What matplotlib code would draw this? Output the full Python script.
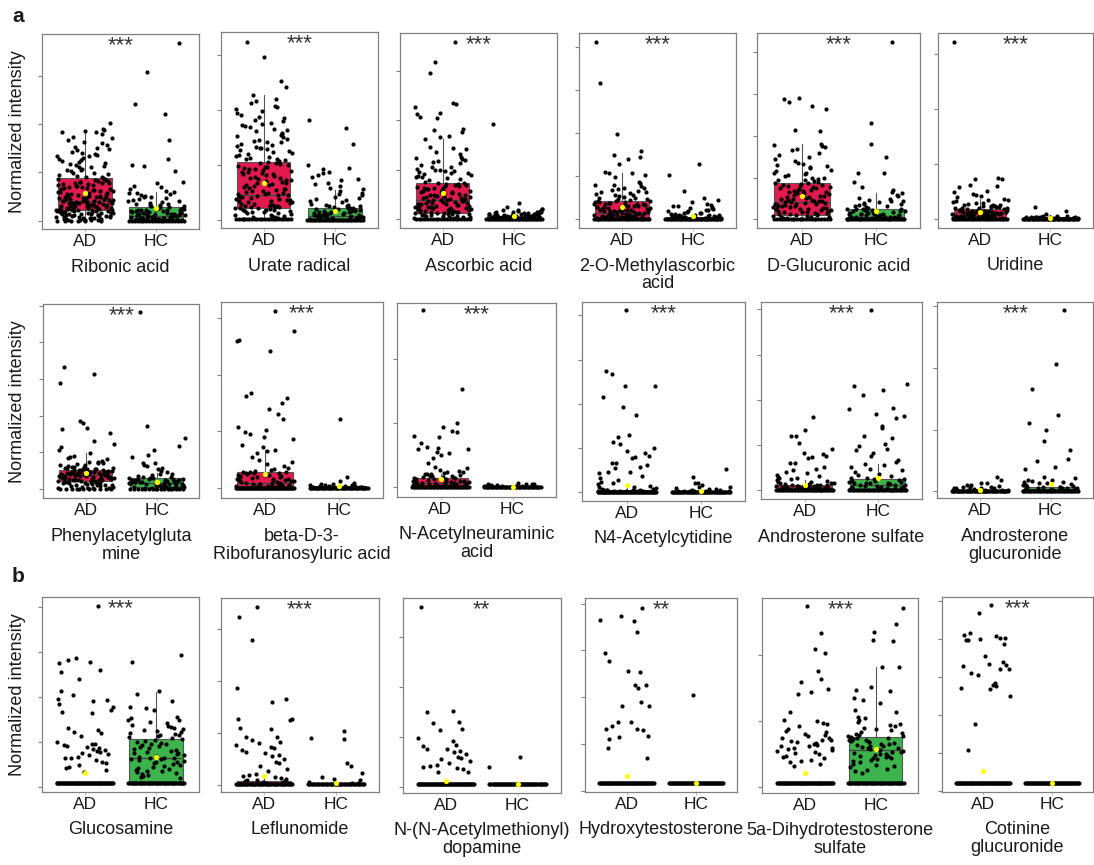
import numpy as np
import matplotlib
matplotlib.use("Agg")
import matplotlib.pyplot as plt

plt.rcParams['font.family'] = ['Liberation Sans', 'DejaVu Sans']

W, H = 1094, 865
RED = '#E31A4E'
GREEN = '#3CB44B'
TXT = '#1a1a1a'

# metabolite names, row by row
names = ['Ribonic acid', 'Urate radical', 'Ascorbic acid',
         '2-O-Methylascorbic\nacid', 'D-Glucuronic acid', 'Uridine',
         'Phenylacetylgluta\nmine', 'beta-D-3-\nRibofuranosyluric acid',
         'N-Acetylneuraminic\nacid', 'N4-Acetylcytidine', 'Androsterone sulfate',
         'Androsterone\nglucuronide',
         'Glucosamine', 'Leflunomide', 'N-(N-Acetylmethionyl)\ndopamine',
         'Hydroxytestosterone', '5a-Dihydrotestosterone\nsulfate',
         'Cotinine\nglucuronide']
signif = ['***'] * 14 + ['**', '**', '***', '***']
groups = ['AD', 'HC']

# y range and number of ticks for each panel (ticks at 0, 1, 2, ...)
ylims = [(-0.18, 3.87), (-0.15, 3.41), (-0.19, 3.77), (-0.21, 4.33), (-0.21, 4.44), (-0.16, 3.37),
         (-0.25, 5.05), (-0.19, 3.29), (-0.15, 2.87), (-0.20, 4.31), (-0.20, 4.17), (-0.11, 3.06),
         (-0.11, 4.21), (-0.13, 3.61), (-0.11, 3.78), (-0.02, 4.12), (-0.08, 2.86), (-0.01, 5.10)]
n_ticks = [4, 4, 4, 5, 5, 4,
           6, 4, 3, 5, 5, 4,
           5, 4, 4, 5, 3, 6]

# box stats [whisker low, q1, median, q3, whisker high]
ad_box = [[0, 0.21, 0.41, 0.88, 1.84], [0, 0.22, 0.45, 1.06, 2.27], [0, 0.11, 0.38, 0.73, 1.61],
          [0, 0, 0.15, 0.43, 1.06], [0, 0.10, 0.42, 0.87, 1.80], [0, 0.04, 0.11, 0.18, 0.36],
          [0, 0.21, 0.39, 0.53, 0.98], [0, 0.02, 0.08, 0.28, 0.67], [0, 0.01, 0.06, 0.14, 0.21],
          [0, 0, 0.01, 0.04, 0.10], [0, 0.01, 0.05, 0.12, 0.22], [0, 0, 0.01, 0.03, 0.07],
          [0.09, 0.09, 0.09, 0.09, 0.09], [0.01, 0.01, 0.02, 0.08, 0.17], [0.06, 0.06, 0.06, 0.06, 0.06],
          [0.16, 0.16, 0.16, 0.16, 0.16], [0.06, 0.06, 0.06, 0.06, 0.06], [0.22, 0.22, 0.22, 0.22, 0.22]]
hc_box = [[0, 0.03, 0.10, 0.28, 0.59], [0, 0.01, 0.07, 0.22, 0.55], [0, 0, 0.03, 0.06, 0.13],
          [0, 0, 0.02, 0.05, 0.12], [0, 0.02, 0.06, 0.25, 0.62], [0, 0, 0.01, 0.03, 0.07],
          [0, 0.07, 0.18, 0.30, 0.44], [0, 0, 0.01, 0.02, 0.05], [0, 0, 0, 0.01, 0.03],
          [0, 0, 0, 0.01, 0.03], [0, 0.01, 0.12, 0.24, 0.58], [0, 0, 0.04, 0.08, 0.18],
          [0.09, 0.09, 0.63, 1.07, 2.11], [0.01, 0.01, 0.01, 0.01, 0.01], [0.06, 0.06, 0.06, 0.06, 0.06],
          [0.16, 0.16, 0.16, 0.16, 0.16], [0.06, 0.06, 0.56, 0.76, 1.81], [0.22, 0.22, 0.22, 0.22, 0.22]]
ad_mean = [0.58, 0.68, 0.53, 0.29, 0.56, 0.13, 0.44, 0.24, 0.12, 0.16, 0.12, 0.03,
           0.30, 0.18, 0.13, 0.32, 0.22, 0.52]
hc_mean = [0.26, 0.17, 0.05, 0.07, 0.20, 0.02, 0.20, 0.02, 0.00, 0.02, 0.28, 0.12,
           0.67, 0.03, 0.06, 0.16, 0.58, 0.22]

# individual sample values
ribonic_ad = [2.03, 1.91, 1.87, 1.86, 1.84, 1.83, 1.79, 1.74, 1.72, 1.67, 1.64, 1.60, 1.57, 1.53, 1.50,
              1.47, 1.43, 1.39, 1.36, 1.33, 1.30, 1.27, 1.24, 1.22, 1.19, 1.16, 1.13, 1.11, 1.08, 1.05,
              1.02, 0.98, 0.96, 0.93, 0.90, 0.88, 0.86, 0.85, 0.83, 0.81, 0.79, 0.78, 0.76, 0.74, 0.73,
              0.71, 0.69, 0.68, 0.66, 0.65, 0.63, 0.62, 0.60, 0.59, 0.57, 0.56, 0.55, 0.53, 0.52, 0.51,
              0.49, 0.48, 0.47, 0.46, 0.45, 0.44, 0.43, 0.42, 0.41, 0.41, 0.40, 0.39, 0.38, 0.37, 0.37,
              0.36, 0.35, 0.34, 0.33, 0.33, 0.32, 0.31, 0.30, 0.29, 0.29, 0.28, 0.27, 0.26, 0.25, 0.24,
              0.24, 0.23, 0.22, 0.21, 0.20, 0.19, 0.18, 0.17, 0.16, 0.15, 0.14, 0.13, 0.12, 0.11, 0.10,
              0.09, 0.08, 0.07, 0.06, 0.05, 0.04, 0.03, 0.02, 0.01, 0.01,
              0.87, 0.84, 0.82, 0.80, 0.77, 0.75, 0.72, 0.70, 0.67, 0.64, 0.61, 0.58, 0.54, 0.51, 0.50,
              0.48, 0.46, 0.44, 0.43, 0.42, 0.40, 0.39, 0.38, 0.36, 0.35, 0.34, 0.32, 0.31, 0.30, 0.28,
              0.27, 0.26, 0.25, 0.23, 0.22, 0.21, 0.20, 0.19, 0.18, 0.17, 0.16, 0.15, 0.14, 0.13, 0.12,
              0.11, 0.10, 0.09, 0.08, 0.07, 0.06, 0.05, 0.04, 0.03, 0.02, 0.01, 1.48, 1.41, 1.35, 1.26,
              1.18, 1.12, 1.04, 0.99, 0.94, 0.91] + [0.0] * 6
ribonic_hc = [3.68, 3.08, 2.41, 2.21, 1.68, 1.27, 1.15, 1.13, 1.03, 0.81, 0.77, 0.72, 0.70, 0.66, 0.62,
              0.60, 0.57, 0.55, 0.52, 0.50, 0.48, 0.45, 0.43, 0.41, 0.39, 0.37, 0.35, 0.33, 0.31, 0.30,
              0.28, 0.27, 0.26, 0.25, 0.24, 0.23, 0.22, 0.21, 0.20, 0.19, 0.18, 0.17, 0.16, 0.15, 0.14,
              0.14, 0.13, 0.12, 0.11, 0.10, 0.10, 0.09, 0.08, 0.08, 0.07, 0.06, 0.06, 0.05, 0.04, 0.04,
              0.03, 0.03, 0.02, 0.02, 0.01, 0.01,
              0.35, 0.32, 0.29, 0.27, 0.25, 0.23, 0.21, 0.19, 0.18, 0.17, 0.16, 0.15, 0.14, 0.13, 0.12,
              0.11, 0.10, 0.09, 0.08, 0.07, 0.06, 0.05, 0.05, 0.04, 0.03, 0.03, 0.02, 0.02, 0.01, 0.01,
              0.58, 0.53, 0.46, 0.40] + [0.0] * 20
urate_ad = [3.24, 2.96, 2.53, 2.41, 2.28, 2.19, 2.16, 2.12, 2.08, 2.05, 2.02, 1.98, 1.95, 1.91, 1.88,
            1.85, 1.82, 1.80, 1.77, 1.74, 1.71, 1.69, 1.66, 1.63, 1.61, 1.58, 1.56, 1.53, 1.51, 1.48,
            1.46, 1.44, 1.41, 1.39, 1.37, 1.35, 1.33, 1.31, 1.29, 1.27, 1.25, 1.23, 1.21, 1.19, 1.17,
            1.15, 1.13, 1.11, 1.09, 1.07, 1.05, 1.03, 1.01, 0.99, 0.97, 0.95, 0.93, 0.91, 0.89, 0.87,
            0.85, 0.83, 0.81, 0.79, 0.77, 0.75, 0.73, 0.71, 0.69, 0.67, 0.65, 0.63, 0.61, 0.59, 0.57,
            0.55, 0.53, 0.51, 0.49, 0.47, 0.46, 0.44, 0.43, 0.41, 0.40, 0.38, 0.37, 0.35, 0.34, 0.32,
            0.31, 0.29, 0.28, 0.26, 0.25, 0.24, 0.23, 0.22, 0.21, 0.20, 0.19, 0.18, 0.16, 0.14, 0.12,
            0.10, 0.08, 0.06, 0.04,
            1.04, 1.00, 0.96, 0.92, 0.88, 0.84, 0.80, 0.76, 0.72, 0.68, 0.64, 0.60, 0.56, 0.52, 0.50,
            0.48, 0.45, 0.42, 0.39, 0.36, 0.33, 0.30, 0.27, 0.25, 0.23, 0.21, 0.19, 0.17, 0.15, 0.13,
            0.11, 0.09, 0.07, 0.05, 0.03, 0.02, 1.72, 1.55, 1.42, 1.30, 1.20, 1.10] + [0.01] * 22
urate_hc = [1.82, 1.68, 1.39, 1.00, 0.94, 0.92, 0.88, 0.85, 0.82, 0.78, 0.75, 0.72, 0.68, 0.65, 0.62,
            0.59, 0.56, 0.53, 0.50, 0.47, 0.45, 0.42, 0.40, 0.38, 0.36, 0.34, 0.32, 0.30, 0.28, 0.26,
            0.25, 0.24, 0.22, 0.21, 0.20, 0.19, 0.18, 0.17, 0.16, 0.15, 0.14, 0.13, 0.12, 0.11, 0.10,
            0.09, 0.08, 0.07, 0.06, 0.05, 0.04, 0.03, 0.02,
            0.28, 0.25, 0.22, 0.20, 0.18, 0.16, 0.14, 0.13, 0.12, 0.11, 0.10, 0.09, 0.08, 0.07, 0.06,
            0.05, 0.04, 0.03, 0.02, 0.01, 0.01] + [0.0] * 35
ascorbic_ad = [3.59, 3.18, 2.96, 2.35, 2.33, 2.27, 2.14, 2.13, 2.06, 2.05, 1.83, 1.80, 1.75, 1.67, 1.66,
               1.61, 1.46, 1.43, 1.41, 1.36, 1.32, 1.26, 1.24, 1.21, 1.20, 1.18, 1.16, 1.13, 1.10, 1.06,
               1.02, 1.00, 0.99, 0.97, 0.95, 0.93, 0.92, 0.88, 0.86, 0.85, 0.82, 0.78, 0.75, 0.73, 0.71,
               0.70, 0.68, 0.66, 0.65, 0.63, 0.62, 0.60, 0.58, 0.57, 0.55, 0.54, 0.52, 0.51, 0.49, 0.48,
               0.47, 0.45, 0.44, 0.43, 0.41, 0.40, 0.39, 0.38, 0.37, 0.36, 0.34, 0.33, 0.32, 0.31, 0.30,
               0.29, 0.28, 0.27, 0.26, 0.25, 0.24, 0.23, 0.22, 0.21, 0.20, 0.19, 0.18, 0.17, 0.16, 0.15,
               0.14, 0.13, 0.12, 0.11, 0.10, 0.09, 0.08, 0.07, 0.06, 0.05, 0.04, 0.03, 0.02, 0.01,
               0.72, 0.69, 0.66, 0.63, 0.60, 0.57, 0.54, 0.51, 0.48, 0.46, 0.44, 0.42, 0.40, 0.38, 0.36,
               0.34, 0.32, 0.30, 0.28, 0.26, 0.24, 0.22, 0.20, 0.18, 0.16, 0.14, 0.12, 0.10, 0.08, 0.06,
               0.04, 0.02, 0.01, 1.05, 0.98, 0.90, 0.84, 0.80] + [0.0] * 20
ascorbic_hc = [1.92, 0.32, 0.24, 0.21, 0.19, 0.17, 0.16, 0.15, 0.14, 0.13, 0.12, 0.11, 0.10, 0.09, 0.09,
               0.08, 0.08, 0.07, 0.07, 0.06, 0.06, 0.05, 0.05, 0.04, 0.04, 0.04, 0.03, 0.03, 0.03, 0.02,
               0.02, 0.02, 0.01, 0.01, 0.01,
               0.12, 0.11, 0.10, 0.09, 0.08, 0.07, 0.06, 0.05, 0.05, 0.04, 0.04, 0.03, 0.03, 0.02, 0.02,
               0.01, 0.01, 0.15, 0.18, 0.20] + [0.0] * 40
methylasc_ad = [4.12, 3.16, 1.99, 1.59, 1.49, 1.45, 1.39, 1.29, 1.10, 1.08, 1.06, 1.03, 0.97, 0.87, 0.83,
                0.80, 0.76, 0.72, 0.70, 0.68, 0.65, 0.62, 0.60, 0.58, 0.56, 0.53, 0.51, 0.49, 0.47, 0.45,
                0.43, 0.42, 0.40, 0.39, 0.38, 0.36, 0.35, 0.34, 0.33, 0.31, 0.30, 0.29, 0.28, 0.27, 0.26,
                0.25, 0.24, 0.23, 0.22, 0.21, 0.20, 0.19, 0.18, 0.17, 0.16, 0.15, 0.14, 0.13, 0.12, 0.11,
                0.10, 0.09, 0.08, 0.07, 0.06, 0.05, 0.04, 0.03, 0.02, 0.01,
                0.42, 0.40, 0.37, 0.35, 0.32, 0.30, 0.28, 0.26, 0.24, 0.22, 0.20, 0.18, 0.16, 0.14, 0.12,
                0.10, 0.09, 0.08, 0.07, 0.06, 0.05, 0.04, 0.03, 0.02, 0.01, 0.55, 0.50, 0.46, 0.62, 0.71,
                0.78] + [0.0] * 30
methylasc_hc = [1.29, 1.02, 0.66, 0.48, 0.45, 0.40, 0.35, 0.33, 0.30, 0.28, 0.26, 0.24, 0.22, 0.20, 0.18,
                0.16, 0.15, 0.13, 0.12, 0.11, 0.10, 0.09, 0.08, 0.07, 0.06, 0.05, 0.04, 0.03, 0.02, 0.01,
                0.10, 0.09, 0.08, 0.07, 0.06, 0.05, 0.04, 0.04, 0.03, 0.03, 0.02, 0.02, 0.01, 0.01, 0.14,
                0.19, 0.25, 0.31] + [0.0] * 40
glucuronic_ad = [2.90, 2.87, 2.81, 2.70, 2.63, 2.13, 2.12, 1.80, 1.78, 1.75, 1.72, 1.68, 1.65, 1.58, 1.53,
                 1.49, 1.45, 1.40, 1.35, 1.33, 1.30, 1.27, 1.22, 1.19, 1.15, 1.12, 1.09, 1.06, 1.03, 1.00,
                 0.97, 0.94, 0.91, 0.89, 0.87, 0.85, 0.83, 0.81, 0.79, 0.77, 0.75, 0.73, 0.71, 0.69, 0.67,
                 0.65, 0.63, 0.61, 0.59, 0.57, 0.55, 0.53, 0.51, 0.49, 0.47, 0.45, 0.44, 0.42, 0.41, 0.39,
                 0.38, 0.36, 0.35, 0.33, 0.32, 0.30, 0.29, 0.27, 0.26, 0.24, 0.23, 0.21, 0.20, 0.18, 0.17,
                 0.15, 0.14, 0.12, 0.11, 0.09, 0.08, 0.06, 0.05, 0.03, 0.02, 0.01,
                 0.86, 0.82, 0.78, 0.74, 0.70, 0.66, 0.62, 0.58, 0.54, 0.50, 0.46, 0.43, 0.40, 0.37, 0.34,
                 0.31, 0.28, 0.25, 0.22, 0.19, 0.16, 0.13, 0.10, 0.07, 0.04, 0.02, 1.25, 1.10, 0.98,
                 0.93] + [0.0] * 20
glucuronic_hc = [4.24, 2.31, 1.81, 1.49, 1.11, 1.10, 0.90, 0.78, 0.70, 0.66, 0.62, 0.58, 0.55, 0.52, 0.49,
                 0.46, 0.43, 0.41, 0.38, 0.36, 0.34, 0.32, 0.30, 0.28, 0.26, 0.25, 0.24, 0.22, 0.21, 0.20,
                 0.18, 0.17, 0.16, 0.14, 0.13, 0.12, 0.11, 0.10, 0.09, 0.08, 0.07, 0.06, 0.05, 0.04, 0.03,
                 0.02, 0.01,
                 0.24, 0.22, 0.20, 0.18, 0.16, 0.14, 0.12, 0.10, 0.08, 0.07, 0.06, 0.05, 0.04, 0.03, 0.02,
                 0.01, 0.33, 0.40, 0.45] + [0.0] * 30
uridine_ad = [3.21, 0.74, 0.73, 0.72, 0.62, 0.60, 0.58, 0.50, 0.49, 0.46, 0.44, 0.41, 0.40, 0.37, 0.35,
              0.34, 0.32, 0.30, 0.29, 0.27, 0.26, 0.25, 0.24, 0.23, 0.22, 0.21, 0.20, 0.19, 0.19, 0.18,
              0.17, 0.17, 0.16, 0.15, 0.15, 0.14, 0.14, 0.13, 0.12, 0.12, 0.11, 0.11, 0.10, 0.10, 0.09,
              0.09, 0.08, 0.08, 0.07, 0.07, 0.06, 0.06, 0.05, 0.05, 0.04, 0.04, 0.03, 0.03, 0.02, 0.02,
              0.01, 0.01,
              0.20, 0.18, 0.16, 0.14, 0.13, 0.12, 0.11, 0.10, 0.09, 0.08, 0.07, 0.06, 0.05, 0.04, 0.03,
              0.02, 0.01, 0.22, 0.24, 0.26, 0.28] + [0.0] * 30
uridine_hc = [0.22, 0.14, 0.09, 0.06, 0.05, 0.04, 0.04, 0.03, 0.03, 0.03, 0.02, 0.02, 0.02, 0.02, 0.01,
              0.01, 0.01, 0.01, 0.05, 0.04, 0.03, 0.03, 0.02, 0.02, 0.01, 0.01] + [0.0] * 45
phenylac_ad = [3.32, 3.15, 2.89, 1.85, 1.80, 1.67, 1.65, 1.54, 1.31, 1.24, 1.16, 1.07, 0.98, 0.91, 0.88,
               0.82, 0.78, 0.75, 0.72, 0.70, 0.67, 0.65, 0.63, 0.61, 0.60, 0.58, 0.57, 0.56, 0.55, 0.54,
               0.53, 0.52, 0.51, 0.50, 0.49, 0.48, 0.47, 0.46, 0.46, 0.45, 0.44, 0.43, 0.43, 0.42, 0.41,
               0.40, 0.40, 0.39, 0.38, 0.37, 0.37, 0.36, 0.35, 0.34, 0.33, 0.32, 0.31, 0.30, 0.29, 0.28,
               0.27, 0.26, 0.25, 0.24, 0.23, 0.22, 0.21, 0.20, 0.19, 0.18, 0.17, 0.16, 0.14, 0.12, 0.10,
               0.08, 0.06, 0.04, 0.02, 0.01,
               0.60, 0.57, 0.54, 0.52, 0.50, 0.48, 0.46, 0.44, 0.42, 0.40, 0.38, 0.36, 0.34, 0.32, 0.30,
               0.28, 0.26, 0.24, 0.22, 0.20, 0.18, 0.16, 0.14, 0.12, 0.10, 0.08, 0.06, 0.04, 0.02, 0.68,
               0.74, 0.85] + [0.0] * 10
phenylac_hc = [4.84, 1.73, 1.39, 1.18, 1.08, 0.93, 0.89, 0.72, 0.70, 0.66, 0.62, 0.58, 0.55, 0.50, 0.46,
               0.42, 0.40, 0.38, 0.36, 0.34, 0.32, 0.31, 0.30, 0.29, 0.28, 0.27, 0.26, 0.25, 0.24, 0.23,
               0.22, 0.21, 0.20, 0.19, 0.18, 0.17, 0.16, 0.15, 0.14, 0.13, 0.12, 0.11, 0.10, 0.09, 0.08,
               0.07, 0.06, 0.05, 0.04, 0.03, 0.02, 0.01,
               0.30, 0.27, 0.24, 0.22, 0.20, 0.18, 0.16, 0.14, 0.12, 0.10, 0.08, 0.06, 0.04, 0.02,
               0.01] + [0.0] * 15
ribofur_ad = [3.13, 2.78, 2.61, 2.60, 2.42, 1.67, 1.62, 1.58, 1.50, 1.40, 1.30, 1.22, 1.08, 1.02, 0.99,
              0.95, 0.90, 0.87, 0.75, 0.72, 0.67, 0.64, 0.61, 0.55, 0.49, 0.45, 0.42, 0.38, 0.35, 0.33,
              0.31, 0.29, 0.28, 0.27, 0.26, 0.25, 0.24, 0.23, 0.22, 0.21, 0.20, 0.19, 0.18, 0.17, 0.16,
              0.15, 0.14, 0.13, 0.12, 0.11, 0.10, 0.09, 0.08, 0.07, 0.06, 0.05, 0.04, 0.03, 0.02, 0.01,
              0.28, 0.25, 0.22, 0.19, 0.16, 0.13, 0.10, 0.08, 0.06, 0.04, 0.02, 0.01] + [0.0] * 60
ribofur_hc = [1.21, 0.18, 0.11, 0.08, 0.07, 0.06, 0.05, 0.04, 0.04, 0.03, 0.03, 0.02, 0.02, 0.02, 0.01,
              0.01, 0.01] + [0.0] * 50
neuram_ad = [2.75, 1.52, 0.99, 0.94, 0.87, 0.86, 0.79, 0.78, 0.69, 0.63, 0.61, 0.60, 0.59, 0.54, 0.53,
             0.50, 0.45, 0.38, 0.32, 0.30, 0.27, 0.25, 0.24, 0.23, 0.22, 0.21, 0.20, 0.19, 0.18, 0.17,
             0.16, 0.15, 0.14, 0.14, 0.13, 0.12, 0.12, 0.11, 0.10, 0.10, 0.09, 0.08, 0.08, 0.07, 0.07,
             0.06, 0.06, 0.05, 0.05, 0.04, 0.04, 0.03, 0.03, 0.02, 0.02, 0.01, 0.01,
             0.14, 0.12, 0.10, 0.08, 0.06, 0.04, 0.02, 0.01, 0.18, 0.20] + [0.0] * 40
neuram_hc = [0.06, 0.05, 0.05, 0.04, 0.04, 0.03, 0.03, 0.02, 0.02, 0.02, 0.01, 0.01, 0.01] + [0.0] * 45
acetylcyt_ad = [4.12, 2.74, 2.67, 2.40, 2.39, 2.16, 1.92, 1.74, 1.28, 1.25, 1.14, 1.09, 0.99, 0.93, 0.88,
                0.82, 0.80, 0.76, 0.66, 0.65, 0.60, 0.57, 0.54, 0.46, 0.44, 0.42, 0.35, 0.31, 0.27, 0.23,
                0.20, 0.17, 0.14, 0.12, 0.10, 0.08, 0.07, 0.06, 0.05, 0.04, 0.04, 0.03, 0.03, 0.02, 0.02,
                0.01, 0.01, 0.05, 0.04, 0.03, 0.02, 0.01] + [0.0] * 60
acetylcyt_hc = [0.51, 0.33, 0.21, 0.20, 0.16, 0.12, 0.10, 0.08, 0.07, 0.06, 0.05, 0.04, 0.03, 0.03, 0.02,
                0.02, 0.01, 0.01] + [0.0] * 55
andro_s_ad = [1.63, 1.33, 1.21, 1.19, 1.05, 0.91, 0.82, 0.80, 0.76, 0.74, 0.71, 0.61, 0.60, 0.52, 0.48,
              0.45, 0.41, 0.38, 0.34, 0.31, 0.30, 0.28, 0.26, 0.24, 0.22, 0.20, 0.19, 0.18, 0.17, 0.16,
              0.15, 0.14, 0.13, 0.12, 0.12, 0.11, 0.10, 0.10, 0.09, 0.09, 0.08, 0.08, 0.07, 0.07, 0.06,
              0.06, 0.05, 0.05, 0.04, 0.04, 0.03, 0.03, 0.02, 0.02, 0.01, 0.01,
              0.12, 0.10, 0.08, 0.06, 0.04, 0.02] + [0.0] * 40
andro_s_hc = [3.99, 2.35, 2.31, 2.22, 2.11, 1.83, 1.80, 1.68, 1.64, 1.60, 1.42, 1.38, 1.21, 1.15, 1.02,
              0.98, 0.91, 0.89, 0.82, 0.75, 0.67, 0.63, 0.58, 0.55, 0.52, 0.47, 0.44, 0.40, 0.37, 0.34,
              0.31, 0.28, 0.26, 0.24, 0.22, 0.20, 0.19, 0.18, 0.17, 0.16, 0.15, 0.14, 0.13, 0.12, 0.11,
              0.10, 0.09, 0.08, 0.07, 0.06, 0.05, 0.04, 0.03, 0.02, 0.01,
              0.24, 0.20, 0.16, 0.12, 0.08, 0.04] + [0.0] * 35
andro_g_ad = [0.23, 0.19, 0.14, 0.13, 0.11, 0.10, 0.09, 0.08, 0.07, 0.07, 0.06, 0.06, 0.05, 0.05, 0.04,
              0.04, 0.03, 0.03, 0.03, 0.02, 0.02, 0.02, 0.01, 0.01, 0.01] + [0.0] * 50
andro_g_hc = [2.94, 2.06, 1.65, 1.24, 1.10, 1.00, 0.82, 0.67, 0.53, 0.49, 0.39, 0.37, 0.23, 0.22, 0.19,
              0.18, 0.17, 0.16, 0.15, 0.14, 0.13, 0.12, 0.11, 0.10, 0.09, 0.08, 0.08, 0.07, 0.07, 0.06,
              0.06, 0.05, 0.05, 0.04, 0.04, 0.03, 0.03, 0.02, 0.02, 0.01, 0.01] + [0.0] * 40
glucosamine_ad = [4.01, 2.87, 2.81, 2.78, 2.74, 2.59, 2.56, 2.39, 2.13, 2.04, 1.94, 1.92, 1.90, 1.85, 1.78,
                  1.70, 1.66, 1.63, 1.30, 1.26, 1.22, 1.19, 1.12, 1.00, 0.96, 0.94, 0.93, 0.90, 0.88, 0.87,
                  0.84, 0.81, 0.80, 0.78, 0.74, 0.72, 0.70, 0.67, 0.65, 0.63, 0.59, 0.56, 0.52, 0.48, 0.44,
                  0.41, 0.37, 0.33] + [0.09] * 60
glucosamine_hc = [2.93, 2.78, 2.13, 2.07, 1.91, 1.78, 1.76, 1.70, 1.56, 1.52, 1.48, 1.48, 1.44, 1.41, 1.38,
                  1.35, 1.33, 1.30, 1.28, 1.26, 1.24, 1.22, 1.20, 1.18, 1.16, 1.14, 1.12, 1.10, 1.08, 1.06,
                  1.04, 1.02, 1.00, 0.98, 0.96, 0.94, 0.92, 0.90, 0.88, 0.86, 0.84, 0.82, 0.80, 0.78, 0.76,
                  0.74, 0.72, 0.70, 0.68, 0.66, 0.65, 0.64, 0.63, 0.62, 0.61, 0.60, 0.58, 0.56, 0.54, 0.52,
                  0.50, 0.48, 0.46, 0.44, 0.42, 0.40, 0.38, 0.36, 0.34, 0.32, 0.30, 0.28, 0.26, 0.24, 0.22,
                  0.20] + [0.09] * 50
leflunomide_ad = [3.44, 3.23, 2.79, 1.86, 1.65, 1.60, 1.28, 1.27, 1.25, 1.09, 1.07, 0.93, 0.92, 0.87, 0.83,
                  0.80, 0.77, 0.74, 0.71, 0.67, 0.64, 0.61, 0.58, 0.55, 0.51, 0.45, 0.42, 0.36, 0.30, 0.26,
                  0.22, 0.20, 0.18, 0.16, 0.14, 0.12, 0.10, 0.09, 0.08, 0.07, 0.06, 0.05, 0.04, 0.03,
                  0.02] + [0.01] * 50
leflunomide_hc = [1.04, 0.90, 0.88, 0.42, 0.36, 0.24, 0.16, 0.12, 0.10, 0.06, 0.04, 0.03, 0.02] + [0.01] * 45
acmet_ad = [3.61, 1.53, 1.51, 1.31, 1.29, 1.16, 1.15, 0.99, 0.93, 0.85, 0.83, 0.77, 0.76, 0.72, 0.70,
            0.66, 0.60, 0.58, 0.57, 0.52, 0.48, 0.45, 0.43, 0.40, 0.38, 0.36, 0.31, 0.30] + [0.06] * 60
acmet_hc = [0.60, 0.41] + [0.06] * 55
hydroxyt_ad = [3.90, 3.74, 3.65, 3.63, 3.40, 2.95, 2.77, 2.55, 2.53, 2.26, 2.25, 2.20, 1.90, 1.82, 1.81,
               1.48, 1.47, 1.38, 1.32, 1.31, 1.30, 1.17, 1.15, 1.10, 0.92, 0.71] + [0.16] * 60
hydroxyt_hc = [2.05] + [0.16] * 55
dht_ad = [2.73, 2.33, 2.09, 2.02, 1.75, 1.64, 1.59, 1.49, 1.44, 1.41, 1.14, 1.02, 1.00, 0.97, 0.96,
          0.92, 0.88, 0.85, 0.83, 0.81, 0.79, 0.77, 0.75, 0.74, 0.72, 0.71, 0.70, 0.68, 0.67, 0.66,
          0.64, 0.63, 0.62, 0.60, 0.59, 0.58, 0.57, 0.55, 0.54, 0.52, 0.50, 0.48, 0.46, 0.44, 0.42,
          0.40, 0.38, 0.35, 0.32] + [0.06] * 60
dht_hc = [2.71, 2.47, 2.35, 2.22, 2.20, 1.82, 1.81, 1.52, 1.47, 1.45, 1.35, 1.32, 1.27, 1.17, 1.14,
          1.06, 1.04, 1.01, 0.98, 0.96, 0.94, 0.92, 0.90, 0.88, 0.86, 0.84, 0.82, 0.80, 0.79, 0.78,
          0.77, 0.76, 0.75, 0.74, 0.73, 0.72, 0.71, 0.70, 0.69, 0.68, 0.67, 0.66, 0.65, 0.64, 0.63,
          0.62, 0.61, 0.60, 0.59, 0.58, 0.57, 0.56, 0.55, 0.54, 0.53, 0.52, 0.51, 0.50, 0.49, 0.48,
          0.47, 0.46, 0.45, 0.44, 0.43, 0.42, 0.40, 0.38, 0.36, 0.34, 0.32, 0.30, 0.28, 0.26, 0.24,
          0.22] + [0.06] * 50
cotinine_ad = [4.87, 4.68, 4.15, 4.09, 4.06, 4.02, 4.02, 3.99, 3.97, 3.96, 3.86, 3.54, 3.39, 3.34, 3.32,
               3.28, 3.21, 3.21, 3.10, 3.06, 2.84, 2.79, 2.75, 2.72, 2.69, 2.49, 1.76, 1.09] + [0.22] * 60
cotinine_hc = [0.22] * 55

ad_values = [ribonic_ad, urate_ad, ascorbic_ad, methylasc_ad, glucuronic_ad, uridine_ad,
             phenylac_ad, ribofur_ad, neuram_ad, acetylcyt_ad, andro_s_ad, andro_g_ad,
             glucosamine_ad, leflunomide_ad, acmet_ad, hydroxyt_ad, dht_ad, cotinine_ad]
hc_values = [ribonic_hc, urate_hc, ascorbic_hc, methylasc_hc, glucuronic_hc, uridine_hc,
             phenylac_hc, ribofur_hc, neuram_hc, acetylcyt_hc, andro_s_hc, andro_g_hc,
             glucosamine_hc, leflunomide_hc, acmet_hc, hydroxyt_hc, dht_hc, cotinine_hc]

# panel frames in pixels: left, top, right, bottom
frames = [(41.7, 34, 199.3, 229.3), (220.7, 32.3, 378, 228.3), (400, 32.7, 556.7, 228.3),
          (579, 33, 736, 228), (757.3, 33.3, 920.3, 228.3), (937.7, 33.3, 1092.7, 227.7),
          (43.3, 304, 199.3, 498.3), (220.7, 302, 383, 498.3), (397.3, 302.7, 555.7, 496.7),
          (582.3, 301.7, 745, 500.7), (760.7, 301.7, 921.7, 499.3), (937.3, 302.3, 1093, 498.3),
          (41.7, 597.3, 199.3, 791.7), (220.7, 597.7, 379.3, 791.7), (402.7, 598.3, 560.7, 792.7),
          (585, 598, 737.3, 791.7), (762.3, 597.7, 918.3, 792.7), (941.7, 596.7, 1093, 791.7)]

fig = plt.figure(figsize=(W / 100, H / 100), dpi=100)


def spread(vals, seed):
    # horizontal jitter in [-0.4, 0.4]: evenly spaced slots handed out in hashed order
    v = np.asarray(vals, dtype=float)
    n = len(v)
    h = (np.arange(n, dtype=np.uint64) + np.uint64(seed)) * np.uint64(0x9E3779B97F4A7C15)
    h ^= h >> np.uint64(29)
    h *= np.uint64(0xBF58476D1CE4E5B9)
    h ^= h >> np.uint64(32)
    u = np.empty(n)
    u[np.argsort(h)] = (np.arange(n) + 0.5) / n
    # tied values (detection floor) laid out as an even row
    for val in np.unique(v):
        idx = np.flatnonzero(v == val)
        if len(idx) >= 8:
            u[idx] = (np.arange(len(idx)) + 0.5) / len(idx)
    return 0.8 * u - 0.4


def place(vals, pos, seed, ytop):
    # pick a jitter layout that keeps the top points clear of the star label
    y = np.asarray(vals, dtype=float)
    high = y > ytop
    for s in range(seed, seed + 200):
        x = pos + spread(y, s)
        if not np.any(high & (np.abs(x - 1.5) < 0.27)):
            return x
    return x


for i, (l, t, r, b) in enumerate(frames):
    ax = fig.add_axes([l / W, 1 - b / H, (r - l) / W, (b - t) / H])
    lo, hi = ylims[i]
    ytop = hi - 0.14 * (hi - lo)
    for pos, stats, color in [(1, ad_box[i], RED), (2, hc_box[i], GREEN)]:
        st = dict(whislo=stats[0], q1=stats[1], med=stats[2], q3=stats[3], whishi=stats[4], fliers=[])
        ax.bxp([st], positions=[pos], widths=0.75, patch_artist=True, showcaps=False,
               showfliers=False, zorder=1,
               boxprops=dict(facecolor=color, edgecolor='#555555', linewidth=0.8),
               medianprops=dict(color='#444444', linewidth=1.0),
               whiskerprops=dict(color='#555555', linewidth=0.8))
    for pos, vals, seed in [(1, ad_values[i], 11 + 7 * i), (2, hc_values[i], 503 + 13 * i)]:
        ax.scatter(place(vals, pos, seed, ytop), vals, s=9, color='black', linewidths=0, zorder=3)
    ax.scatter([1, 2], [ad_mean[i], hc_mean[i]], s=14, color='#FFFF00', linewidths=0, zorder=5)

    ax.set_xlim(0.4, 2.6)
    ax.set_ylim(lo, hi)
    ax.set_yticks(range(n_ticks[i]))
    ax.set_yticklabels([])
    ax.set_xticks([1, 2])
    ax.set_xticklabels(groups)
    ax.tick_params(axis='y', length=3, width=0.8, color='#7f7f7f')
    ax.tick_params(axis='x', length=2, width=0.6, color='#b0b0b0', pad=1.5,
                   labelsize=12.5, labelcolor=TXT)
    for sp in ax.spines.values():
        sp.set_color('#808080')
        sp.set_linewidth(0.9)
    ax.set_xlabel(names[i], fontsize=13, labelpad=7, linespacing=1.05, color=TXT)
    ax.text(1.5, 0.94, signif[i], transform=ax.get_xaxis_transform(), ha='center', va='center',
            fontsize=16, color='#333333')
    if i % 6 == 0:
        fig.text(18 / W, 1 - (t + b) / 2 / H, 'Normalized intensity', rotation=90,
                 ha='center', va='center', fontsize=13, color=TXT)

fig.text(12 / W, 1 - 17 / H, 'a', fontsize=15, fontweight='bold', va='center', color=TXT)
fig.text(12 / W, 1 - 576 / H, 'b', fontsize=15, fontweight='bold', va='center', color=TXT)

fig.savefig('out.png', dpi=100)
